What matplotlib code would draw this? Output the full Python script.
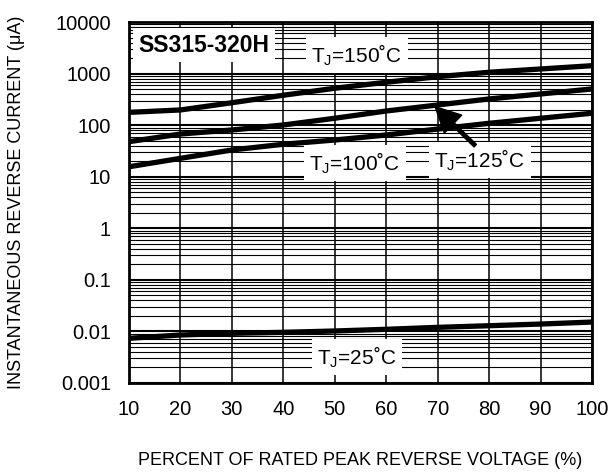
import numpy as np
import matplotlib.pyplot as plt
from matplotlib.ticker import LogLocator, NullFormatter

plt.rcParams['font.family'] = ['Liberation Sans', 'DejaVu Sans']
plt.rcParams['mathtext.fontset'] = 'custom'
plt.rcParams['mathtext.rm'] = 'Liberation Sans'
plt.rcParams['mathtext.it'] = 'Liberation Sans:italic'

# data
percent = [10, 20, 30, 40, 50, 60, 70, 80, 90, 100]
i_150 = [177, 197, 272, 380, 519, 678, 870, 1060, 1227, 1422]
i_125 = [47.8, 67.3, 80.5, 100.7, 136, 188, 246, 322, 402, 503]
i_100 = [15.6, 22.7, 33, 42.6, 51.5, 64.4, 84, 108.6, 136, 170]
i_25 = [0.00735, 0.00853, 0.0092, 0.0096, 0.0102, 0.011, 0.012, 0.0129, 0.0139, 0.0152]

x_ticks = [10, 20, 30, 40, 50, 60, 70, 80, 90, 100]
y_ticks = [0.001, 0.01, 0.1, 1, 10, 100, 1000, 10000]
y_labels = ['0.001', '0.01', '0.1', '1', '10', '100', '1000', '10000']

fig = plt.figure(figsize=(6.09, 4.72), dpi=100)
ax = fig.add_axes([129/609, 1-383/472, (592-129)/609, (383-22)/472])

for y in [i_150, i_125, i_100, i_25]:
    ax.plot(percent, y, color='black', linewidth=3.8, solid_capstyle='round', zorder=4)

ax.set_yscale('log')
ax.set_xlim(10, 100)
ax.set_ylim(0.001, 10000)
ax.set_xticks(x_ticks)
ax.set_yticks(y_ticks)
ax.set_yticklabels(y_labels)
ax.yaxis.set_minor_locator(LogLocator(base=10, subs=np.arange(2, 10)))
ax.yaxis.set_minor_formatter(NullFormatter())
ax.tick_params(axis='both', which='both', length=0, labelsize=14.5)
ax.tick_params(axis='x', pad=12)
ax.tick_params(axis='y', pad=13)

ax.grid(True, which='major', axis='x', color='black', linewidth=1.1)
ax.grid(True, which='major', axis='y', color='black', linewidth=1.5)
ax.grid(True, which='minor', axis='y', color='black', linewidth=0.8)
for s in ax.spines.values():
    s.set_linewidth(2)

ax.set_xlabel('PERCENT OF RATED PEAK REVERSE VOLTAGE (%)', fontsize=13, labelpad=24)
ax.set_ylabel('INSTANTANEOUS REVERSE CURRENT (μA)', fontsize=13, labelpad=22)

box = dict(facecolor='white', edgecolor='none', pad=4)
ax.text(24.6, 3550, 'SS315-320H', fontsize=16.5, fontweight='bold', ha='center', va='center', bbox=box, zorder=5)
ax.text(54.3, 2270, 'T$_\\mathrm{J}$=150˚C', fontsize=15, ha='center', va='center', bbox=box, zorder=5)
ax.text(53.9, 18.3, 'T$_\\mathrm{J}$=100˚C', fontsize=15, ha='center', va='center', bbox=box, zorder=5)
ax.text(78.2, 21, 'T$_\\mathrm{J}$=125˚C', fontsize=15, ha='center', va='center', bbox=box, zorder=5)
ax.text(54.3, 0.0032, 'T$_\\mathrm{J}$=25˚C', fontsize=15, ha='center', va='center', bbox=box, zorder=5)

ax.annotate('', xy=(69.5, 228), xytext=(77.3, 40),
            arrowprops=dict(facecolor='black', edgecolor='black', width=2.5, headwidth=18, headlength=18),
            zorder=6)

fig.savefig('out.png', dpi=100)
